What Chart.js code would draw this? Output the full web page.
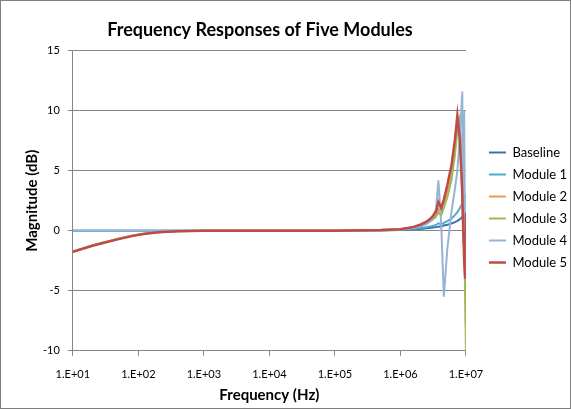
<!DOCTYPE html>
<html>
<head>
<meta charset="utf-8">
<script src="https://cdn.jsdelivr.net/npm/chart.js@4"></script>
<style>
  body { margin: 0; background: #fff; }
  #wrap { position: relative; width: 569px; height: 407px; border: 1px solid #7f7f7f; }
</style>
</head>
<body>
<div id="wrap"><canvas id="myChart" width="569" height="407"></canvas></div>
<script>
// frequencies (Hz) shared by all series
const freq = [10, 20, 30, 50, 80, 120, 200, 400, 1e3, 1e4, 1e5, 5e5, 1e6, 1.5e6, 2e6, 2.5e6, 3e6, 3.5e6, 3.8e6, 4.2e6, 4.6e6, 5.2e6, 6e6, 6.8e6, 7.4e6, 8e6, 8.5e6, 8.8e6, 9.1e6, 9.4e6, 9.7e6, 1e7]

const baseline = [0, 0, 0, 0, 0, 0, 0, 0, 0, 0, 0, 0.02, 0.06, 0.1, 0.15, 0.2, 0.25, 0.3, 0.33, 0.38, 0.43, 0.5, 0.6, 0.72, 0.82, 0.95, 1.05, 1.15, 1.25, 1.35, 1.5, 1.6]
const module1 = [0, 0, 0, 0, 0, 0, 0, 0, 0, 0, 0, 0.03, 0.08, 0.15, 0.22, 0.3, 0.38, 0.48, 0.62, 0.55, 0.65, 0.8, 1.0, 1.3, 1.55, 1.85, 2.1, 2.3, 2.5, 2.7, 2.9, 3.05]
const module2 = [-1.75, -1.22, -0.97, -0.67, -0.42, -0.26, -0.12, -0.05, 0, 0, 0, 0.05, 0.12, 0.26, 0.45, 0.65, 0.95, 1.3, 1.8, 1.5, 2.1, 3.1, 4.6, 6.8, 8.8, 9.2, 6.0, 2.5, 0.3, -1.5, -4.0, -8.0]
const module3 = [-1.75, -1.2, -0.95, -0.65, -0.4, -0.25, -0.12, -0.05, 0, 0, 0, 0.05, 0.12, 0.25, 0.4, 0.6, 0.85, 1.15, 1.5, 1.3, 1.9, 2.8, 4.2, 6.3, 8.4, 9.3, 7.0, 3.0, 0.5, -0.5, -5.0, -10.0]
const module4 = [0, 0, 0, 0, 0, 0, 0, 0, 0, 0, 0, 0.03, 0.1, 0.2, 0.35, 0.55, 0.9, 1.8, 4.2, 0.5, -5.5, -1.5, 1.5, 3.5, 5.0, 7.5, 10.0, 11.6, -1.0, 10.0, -1.3, 3.0]
const module5 = [-1.75, -1.25, -1.0, -0.7, -0.45, -0.28, -0.13, -0.05, 0, 0, 0, 0.05, 0.12, 0.28, 0.5, 0.75, 1.1, 1.6, 2.4, 1.9, 2.6, 3.8, 5.4, 7.6, 9.6, 7.8, 5.0, 3.0, 0, -2.5, -3.9, 1.5]

const seriesNames = ['Baseline', 'Module 1', 'Module 2', 'Module 3', 'Module 4', 'Module 5']
const seriesValues = [baseline, module1, module2, module3, module4, module5]
const seriesColors = ['#3f70ad', '#4bacc6', '#f79646', '#9bbb59', '#95b3d7', '#be4b48']

const xTicks = [1e1, 1e2, 1e3, 1e4, 1e5, 1e6, 1e7]
const xTickLabels = ['1.E+01', '1.E+02', '1.E+03', '1.E+04', '1.E+05', '1.E+06', '1.E+07']

const font = "Lato, 'Open Sans', sans-serif"

const datasets = seriesNames.map((name, i) => ({
    label: name,
    data: freq.map((f, j) => ({ x: f, y: seriesValues[i][j] })),
    borderColor: seriesColors[i],
    backgroundColor: seriesColors[i],
    borderWidth: i === 5 ? 2.5 : 2,
    showLine: true,
    pointRadius: 0,
    tension: 0,
    // excel draws later series on top
    order: seriesNames.length - i
}))

// nudge title and legend to where excel puts them
const nudge = {
    id: 'nudge',
    afterLayout(chart) {
        if (chart.titleBlock) {
            chart.titleBlock.left -= 33
            chart.titleBlock.right -= 33
        }
        if (chart.legend) {
            chart.legend.left += 14
            chart.legend.right += 14
            chart.legend.top -= 5
            chart.legend.bottom -= 5
        }
    }
}

new Chart(document.getElementById('myChart'), {
    type: 'scatter',
    data: { datasets: datasets },
    plugins: [nudge],
    options: {
        responsive: false,
        animation: false,
        devicePixelRatio: 1,
        layout: { padding: { top: 18, right: 7, left: 22, bottom: 2 } },
        plugins: {
            title: {
                display: true,
                text: 'Frequency Responses of Five Modules',
                color: '#000',
                font: { family: font, size: 18, weight: 'bold' },
                padding: { top: 0, bottom: 10 }
            },
            legend: {
                position: 'right',
                reverse: true,
                labels: {
                    usePointStyle: true,
                    pointStyle: 'line',
                    pointStyleWidth: 17,
                    padding: 9,
                    color: '#000',
                    font: { family: font, size: 13 }
                }
            },
            tooltip: { enabled: false }
        },
        scales: {
            x: {
                type: 'logarithmic',
                min: 10,
                max: 1e7,
                afterBuildTicks: (scale) => {
                    scale.ticks = xTicks.map((v) => ({ value: v }))
                },
                // pull the axis title up closer to the tick labels
                afterFit: (scale) => {
                    scale.height -= 7
                },
                ticks: {
                    autoSkip: false,
                    maxRotation: 0,
                    color: '#000',
                    padding: 12,
                    font: { family: font, size: 11 },
                    callback: (value) => xTickLabels[xTicks.indexOf(value)]
                },
                grid: { drawOnChartArea: false, drawTicks: true, tickLength: 5, color: '#868686' },
                border: { color: '#868686' },
                title: {
                    display: true,
                    text: 'Frequency (Hz)',
                    color: '#000',
                    font: { family: font, size: 15, weight: 'bold' },
                    padding: { top: 0, bottom: 2 }
                }
            },
            y: {
                min: -10,
                max: 15,
                afterFit: (scale) => {
                    scale.width -= 6
                },
                ticks: {
                    stepSize: 5,
                    color: '#000',
                    padding: 8,
                    font: { family: font, size: 11 }
                },
                grid: { color: '#868686', tickLength: 5 },
                border: { color: '#868686' },
                title: {
                    display: true,
                    text: 'Magnitude (dB)',
                    color: '#000',
                    font: { family: font, size: 15, weight: 'bold' },
                    padding: { top: 0, bottom: 0 }
                }
            }
        }
    }
})
</script>
</body>
</html>
